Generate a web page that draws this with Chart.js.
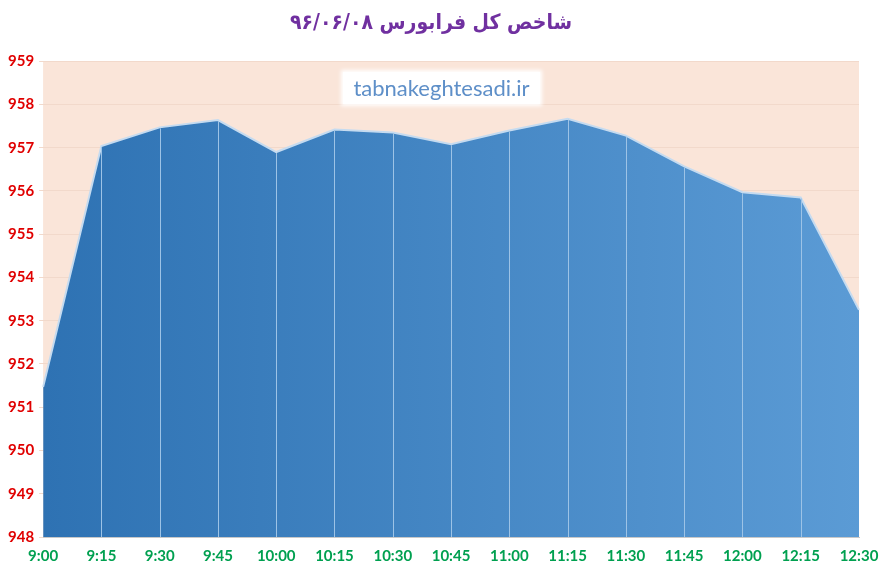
<!DOCTYPE html>
<html>
<head>
<meta charset="utf-8">
<script src="https://cdn.jsdelivr.net/npm/chart.js@4"></script>
<style>
  body { margin: 0; background: #fff; }
  #wrap { position: relative; width: 883px; height: 570px; }
  #mark {
    position: absolute; left: 343px; top: 72px; width: 197px; height: 32px;
    background: #fff; box-shadow: 0 0 4px 2px #fff;
    color: #5E8FC8; font: 22px Lato, sans-serif; line-height: 32px; text-align: center;
  }
</style>
</head>
<body>
<div id="wrap">
  <canvas id="chart" width="883" height="570"></canvas>
  <div id="mark">tabnakeghtesadi.ir</div>
</div>
<script>
var times = ["9:00", "9:15", "9:30", "9:45", "10:00", "10:15", "10:30", "10:45", "11:00", "11:15", "11:30", "11:45", "12:00", "12:15", "12:30"];
var index = [951.47, 957.04, 957.47, 957.64, 956.9, 957.42, 957.35, 957.08, 957.4, 957.67, 957.28, 956.57, 955.97, 955.85, 953.25];
var yMin = 948, yMax = 959;

var plotBg = {
  id: "plotBg",
  beforeDraw: function(chart) {
    var a = chart.chartArea, ctx = chart.ctx;
    ctx.save();
    ctx.fillStyle = "#FAE5D9";
    ctx.fillRect(a.left, a.top, a.right - a.left, a.bottom - a.top);
    ctx.restore();
  }
};

// light vertical lines from each point down to the axis, over the fill
var dropLines = {
  id: "dropLines",
  afterDatasetsDraw: function(chart) {
    var x = chart.scales.x, y = chart.scales.y, ctx = chart.ctx;
    ctx.save();
    ctx.strokeStyle = "#9DC3E6";
    ctx.lineWidth = 1;
    index.forEach(function(v, i) {
      if (i == 0 || i == index.length - 1) return;
      var px = Math.round(x.getPixelForValue(i)) + 0.5;
      ctx.beginPath();
      ctx.moveTo(px, y.getPixelForValue(v) + 1);
      ctx.lineTo(px, y.bottom);
      ctx.stroke();
    });
    ctx.restore();
  }
};

new Chart(document.getElementById("chart"), {
  type: "line",
  data: {
    labels: times,
    datasets: [{
      data: index,
      fill: "start",
      tension: 0,
      pointRadius: 0,
      borderColor: "#C5DBF0",
      borderWidth: 2,
      backgroundColor: function(c) {
        var a = c.chart.chartArea;
        if (!a) return "#2E75B6";
        var g = c.chart.ctx.createLinearGradient(a.left, 0, a.right, 0);
        g.addColorStop(0, "#2E72B3");
        g.addColorStop(1, "#5B9BD5");
        return g;
      }
    }]
  },
  options: {
    responsive: false,
    animation: false,
    layout: { padding: { left: 3, right: 24, top: 0, bottom: 3 } },
    plugins: {
      legend: { display: false },
      tooltip: { enabled: false },
      title: {
        display: true,
        text: "شاخص کل فرابورس ۹۶/۰۶/۰۸",
        color: "#7030A0",
        font: { family: "DejaVu Sans Condensed", size: 21, weight: "bold" },
        padding: { top: 11, bottom: 25 }
      }
    },
    scales: {
      x: {
        offset: false,
        grid: { display: false },
        border: { color: "#C8C8C8" },
        ticks: { color: "#00A050", font: { family: "Lato", size: 15, weight: "bold" }, maxRotation: 0, autoSkip: false, padding: 2 }
      },
      y: {
        min: yMin, max: yMax,
        grid: { color: "#F2D9CB", drawTicks: true, tickLength: 4 },
        border: { display: false },
        ticks: { stepSize: 1, color: "#E00000", font: { family: "Lato", size: 15, weight: "bold" }, padding: 5 }
      }
    }
  },
  plugins: [plotBg, dropLines]
});
</script>
</body>
</html>
